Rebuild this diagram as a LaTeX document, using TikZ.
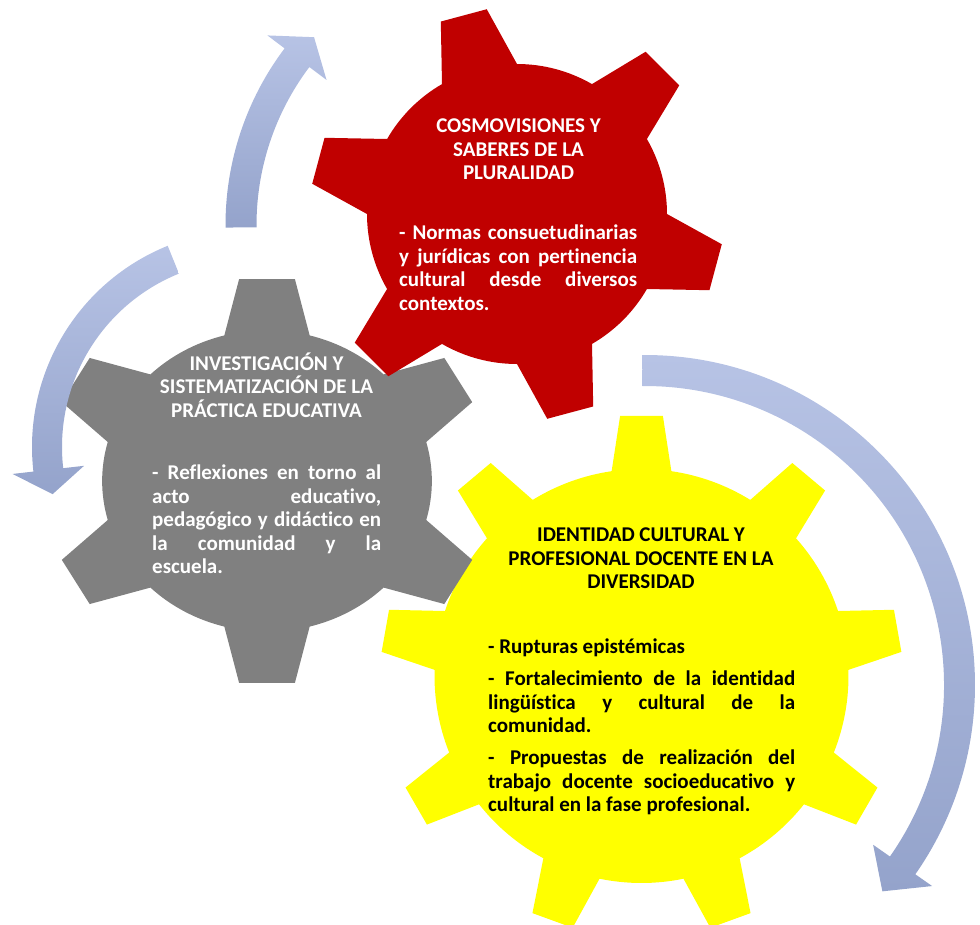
\documentclass[tikz,border=0pt]{standalone}
\usepackage{fontspec}
\setmainfont{Carlito}[Ligatures=NoCommon]
\usetikzlibrary{positioning}

\definecolor{gearred}{HTML}{C00000}
\definecolor{geargrey}{HTML}{808080}
\definecolor{gearyellow}{HTML}{FFFF00}
\definecolor{arrowlight}{HTML}{B7C3E5}
\definecolor{arrowdark}{HTML}{94A3CB}

\newcommand{\gearfont}{\bfseries\fontsize{21}{23.5}\selectfont}

% teeth, first angle, body radius, tip radius, base half angle, tip half angle
\newcommand{\gearpath}[6]{%
  ({#2-#5}:#3)
  \foreach \k [evaluate=\k as \a using {#2+(\k-1)*360/#1}] in {1,...,#1} {
    -- ({\a-#6}:#4) -- ({\a+#6}:#4) -- ({\a+#5}:#3)
    arc[start angle={\a+#5}, end angle={\a+360/#1-#5}, radius=#3]
  } -- cycle}

% mid radius, half width, start angle, end angle, head half width, tip angle
\newcommand{\cyclearrow}[6]{%
  (#3:{#1+#2}) arc[start angle=#3, end angle=#4, radius={#1+#2}]
  -- (#4:{#1+#5}) -- (#6:#1) -- (#4:{#1-#5}) -- (#4:{#1-#2})
  arc[start angle=#4, end angle=#3, radius={#1-#2}] -- cycle}

\tikzset{
  gear title/.style={align=center, font=\gearfont, inner sep=0pt},
  gear text/.style={align=justify, anchor=north west, inner sep=0pt,
    font={\gearfont\tolerance=10000\hyphenpenalty=10000\parskip=8.5pt}},
  cycle arrow/.style={top color=arrowlight, bottom color=arrowdark}
}

\begin{document}
\begin{tikzpicture}[x=1pt,y=1pt]
\useasboundingbox (0,-924) rectangle (980,0);

\begin{scope}[shift={(641.5,-676)}]
\fill[gearyellow] \gearpath{9}{90}{207}{261}{8.3}{4.7};
\end{scope}
\begin{scope}[shift={(267,-481)},xscale=1.05,yscale=0.96]
\fill[geargrey] \gearpath{6}{90}{157}{212}{15}{7.2};
\end{scope}
\begin{scope}[shift={(517,-214)}]
\fill[gearred] \gearpath{6}{45}{150}{207}{15}{6.6};
\end{scope}

\begin{scope}[shift={(519,-225)}]
\path[cycle arrow] \cyclearrow{278}{15.5}{180.5}{143}{37}{137.5};
\end{scope}
\begin{scope}[shift={(249,-447)}]
\path[cycle arrow] \cyclearrow{202}{15}{112}{186.5}{36}{193.5};
\end{scope}
\begin{scope}[shift={(645,-685)}]
\path[cycle arrow] \cyclearrow{314.5}{15.5}{90.5}{-35}{36}{-41};
\end{scope}

\node[gear title, text=white] (cosmotitle) at (518.5,-149.5)
  {COSMOVISIONES Y\\SABERES DE LA\\PLURALIDAD};
\node[gear text, text=white, text width=238pt] (cosmotext) at (399,-225)
  {\noindent - Normas consuetudinarias\linebreak y jurídicas con pertinencia\linebreak
   cultural desde diversos\linebreak contextos.};

\node[gear title, text=white] (investtitle) at (266.5,-385)
  {INVESTIGACIÓN Y\\SISTEMATIZACIÓN DE LA\\PRÁCTICA EDUCATIVA};
\node[gear text, text=white, text width=229pt] (investtext) at (152,-465)
  {\noindent - Reflexiones en torno al\linebreak acto educativo,\linebreak
   pedagógico y didáctico en\linebreak la comunidad y la\linebreak escuela.};

\node[gear title] (identtitle) at (641,-558.5)
  {IDENTIDAD CULTURAL Y\\PROFESIONAL DOCENTE EN LA\\DIVERSIDAD};
\node[gear text, text width=307pt] (identtext) at (488,-639)
  {\noindent - Rupturas epistémicas\par
   \noindent - Fortalecimiento de la identidad\linebreak lingüística y cultural de la\linebreak comunidad.\par
   \noindent - Propuestas de realización del\linebreak trabajo docente socioeducativo y\linebreak
   cultural en la fase profesional.};
\end{tikzpicture}
\end{document}
